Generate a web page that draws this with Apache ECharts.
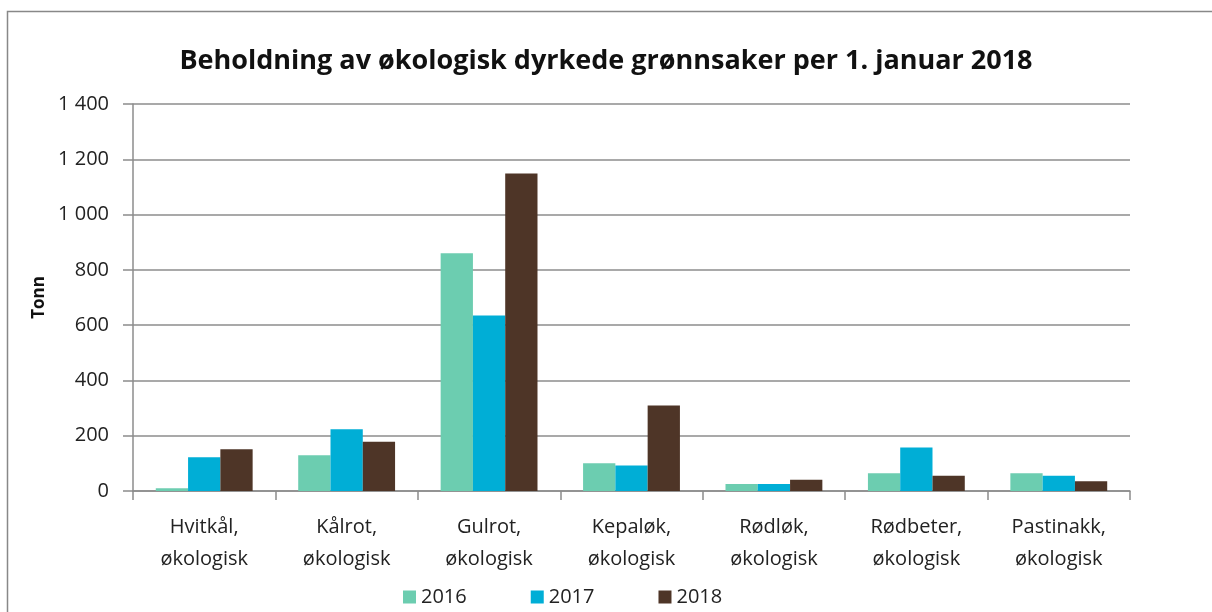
<!DOCTYPE html>
<html>
<head>
<meta charset="utf-8">
<script src="https://cdn.jsdelivr.net/npm/echarts@6/dist/echarts.min.js"></script>
<style>html,body{margin:0;padding:0;background:#fff}#c{width:1212px;height:612px}</style>
</head>
<body>
<div id="c"></div>
<script>
const categories = ['Hvitkål,\nøkologisk','Kålrot,\nøkologisk','Gulrot,\nøkologisk','Kepaløk,\nøkologisk','Rødløk,\nøkologisk','Rødbeter,\nøkologisk','Pastinakk,\nøkologisk'];
const s2016 = [10, 129, 860, 100, 25, 64, 64];
const s2017 = [122, 223, 635, 92, 25, 157, 55];
const s2018 = [151, 178, 1149, 309, 41, 55, 35];
const seriesNames = ['2016','2017','2018'];
const colors = ['#6ccdb0','#00aed6','#4e3527'];

const chart = echarts.init(document.getElementById('c'));
const font = 'Open Sans, sans-serif';
chart.setOption({
  animation: false,
  graphic: [{type:'rect', shape:{x:7.5,y:11.5,width:1230,height:640}, style:{fill:'none', stroke:'#888', lineWidth:1.5}}],
  title: {text:'Beholdning av økologisk dyrkede grønnsaker per 1. januar 2018', left:'center', top:43,
    textStyle:{fontFamily:font, fontWeight:'bold', fontSize:27, color:'#111'}},
  legend: {bottom:0, left:398, itemWidth:13, itemHeight:13, itemGap:64, icon:'rect',
    textStyle:{fontFamily:font, fontSize:20, color:'#222'}, data: seriesNames},
  grid: {left:133, right:82, top:104, bottom:121, containLabel:false},
  xAxis: {type:'category', data:categories,
    axisLine:{lineStyle:{color:'#8c8c8c', width:1.5}},
    axisTick:{show:true, length:9, lineStyle:{color:'#8c8c8c', width:1.5}},
    axisLabel:{fontFamily:font, fontSize:20, color:'#222', lineHeight:32, margin:20, interval:0}},
  yAxis: {type:'value', min:0, max:1400, interval:200, name:'Tonn', nameLocation:'middle', nameGap:78,
    nameTextStyle:{fontFamily:font, fontWeight:'bold', fontSize:17, color:'#111'},
    axisLine:{show:true, lineStyle:{color:'#8c8c8c', width:1.5}},
    axisTick:{show:true, length:10, lineStyle:{color:'#8c8c8c', width:1.5}},
    splitLine:{lineStyle:{color:'#8c8c8c', width:1.5}},
    axisLabel:{fontFamily:font, fontSize:20, color:'#222', margin:24,
      formatter: v => v >= 1000 ? Math.floor(v/1000) + ' ' + String(v%1000).padStart(3,'0') : String(v)}},
  series: [s2016, s2017, s2018].map((d,i) => ({
    name: seriesNames[i], type:'bar', data:d, barGap:'0%', barCategoryGap:'32%',
    itemStyle:{color:colors[i]}
  }))
});
</script>
</body>
</html>
